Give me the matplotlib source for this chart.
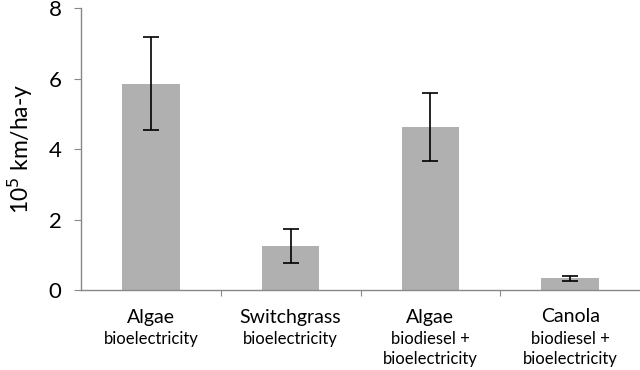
import numpy as np
import matplotlib.pyplot as plt
from matplotlib.transforms import blended_transform_factory

plt.rcParams['font.family'] = ['Lato', 'DejaVu Sans']

# data (10^5 km/ha-y)
crops = ['Algae', 'Switchgrass', 'Algae', 'Canola']
pathways = ['bioelectricity', 'bioelectricity',
            'biodiesel +\nbioelectricity', 'biodiesel +\nbioelectricity']
values = [5.86, 1.25, 4.63, 0.33]
errors = [1.32, 0.47, 0.97, 0.07]

fig = plt.figure(figsize=(6.4, 3.7), dpi=100)
ax = fig.add_axes([0.1266, 0.2162, 0.8734, 0.7618])

x = np.arange(len(crops))
ax.bar(x, values, width=0.41, color='#b0b0b0', zorder=2)
ax.errorbar(x, values, yerr=errors, fmt='none', ecolor='black',
            elinewidth=1.2, capsize=5.5, capthick=1.2, zorder=3)

ax.set_xlim(-0.5, 3.5)
ax.set_ylim(0, 8)
ax.set_yticks([0, 2, 4, 6, 8])
ax.tick_params(axis='y', labelsize=16, direction='out', length=5,
               color='#888888', pad=9)
ax.set_xticks([0.5, 1.5, 2.5])
ax.set_xticklabels([])
ax.tick_params(axis='x', direction='out', length=4, color='#888888')

for s in ['top', 'right']:
    ax.spines[s].set_visible(False)
for s in ['left', 'bottom']:
    ax.spines[s].set_color('#888888')
    ax.spines[s].set_linewidth(1.0)

ax.set_ylabel('10$^5$ km/ha-y', fontsize=16.5, labelpad=10)

trans = blended_transform_factory(ax.transData, fig.transFigure)
for xi, c, p in zip(x, crops, pathways):
    ax.text(xi, 1 - 317 / 370, c, transform=trans, ha='center', va='center',
            fontsize=14)
    ax.text(xi, 1 - 331 / 370, p, transform=trans, ha='center', va='top',
            fontsize=12, linespacing=1.3)

plt.savefig('out.png', dpi=100, facecolor='white')
